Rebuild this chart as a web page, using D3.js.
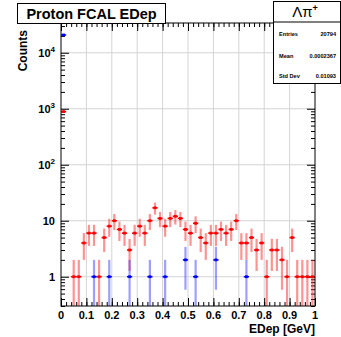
<!DOCTYPE html>
<html>
<head>
<meta charset="utf-8">
<script src="https://cdn.jsdelivr.net/npm/d3@7"></script>
<style>
  html, body { margin: 0; padding: 0; background: #fff; }
  svg { display: block; }
  text { font-family: "Liberation Sans", Arial, Helvetica, sans-serif; }
</style>
</head>
<body>
<svg id="chart" width="341" height="337"></svg>
<script>
// Energy deposit histograms (bin width 0.02 GeV), only non-empty bins listed
const redBins   = [0.01, 0.05, 0.07, 0.09, 0.11, 0.13, 0.15, 0.17, 0.19, 0.21, 0.23, 0.25, 0.27, 0.29,
                   0.31, 0.33, 0.35, 0.37, 0.39, 0.41, 0.43, 0.45, 0.47, 0.49, 0.51, 0.53, 0.55, 0.57,
                   0.59, 0.61, 0.63, 0.65, 0.67, 0.69, 0.71, 0.73, 0.75, 0.77, 0.79, 0.81, 0.83, 0.85,
                   0.87, 0.89, 0.91, 0.93, 0.95, 0.97, 0.99];
const redCounts = [890, 1, 1, 4, 6, 6, 1, 5, 8, 10, 7, 6, 3, 6,
                   8, 6, 10, 17, 11, 8, 11, 12, 11, 7, 6, 9, 5, 4,
                   6, 6, 7, 6, 7, 10, 4, 4, 5, 3, 4, 1, 3, 3,
                   2, 1, 5, 1, 1, 1, 1];
const blueBins   = [0.01, 0.13, 0.19, 0.27, 0.35, 0.41, 0.49, 0.53, 0.61, 0.73];
const blueCounts = [20783, 1, 1, 1, 1, 1, 2, 1, 2, 1];

const xTicks = [0, 0.1, 0.2, 0.3, 0.4, 0.5, 0.6, 0.7, 0.8, 0.9, 1];
const xTickLabels = ["0", "0.1", "0.2", "0.3", "0.4", "0.5", "0.6", "0.7", "0.8", "0.9", "1"];
const yDecades = [1, 10, 100, 1000, 10000];
const yTickLabels = [["1", ""], ["10", ""], ["10", "2"], ["10", "3"], ["10", "4"]];

const titleText = "Proton FCAL EDep";
const xTitle = "EDep [GeV]";
const yTitle = "Counts";
const statsHeader = ["\u039B\u03C0", "+"];
const statsRows = [["Entries", "20794"], ["Mean", "0.0002367"], ["Std Dev", "0.01093"]];

const frame = { left: 61, right: 315, top: 23, bottom: 306 };

const svg = d3.select("#chart");

const x = d3.scaleLinear().domain([0, 1]).range([frame.left, frame.right]);
const y = d3.scaleLog().domain([0.3, 34000]).range([frame.bottom, frame.top]);

// clip region for the plot area
svg.append("defs").append("clipPath").attr("id", "plotClip")
  .append("rect")
  .attr("x", frame.left).attr("y", frame.top)
  .attr("width", frame.right - frame.left).attr("height", frame.bottom - frame.top);

// grid
const grid = svg.append("g").attr("stroke", "#d4d4d4").attr("stroke-width", 1);
xTicks.slice(1, -1).forEach(v => {
  grid.append("line").attr("x1", x(v)).attr("x2", x(v))
    .attr("y1", frame.top).attr("y2", frame.bottom);
});
yDecades.forEach(v => {
  grid.append("line").attr("x1", frame.left).attr("x2", frame.right)
    .attr("y1", y(v)).attr("y2", y(v));
});

// minor tick values
const xMinor = d3.range(0, 51).map(i => i * 0.02);
const yMinor = [];
[0.1, 1, 10, 100, 1000, 10000].forEach(d => {
  for (let k = 2; k <= 9; k++) {
    const v = d * k;
    if (v >= 0.3 && v <= 34000) yMinor.push(v);
  }
});

// axes drawn with D3 axis generators, ticks pointing into the frame
function styleAxis(g) {
  g.select(".domain").remove();
  g.selectAll("line").attr("stroke", "#000").attr("stroke-width", 1);
  g.selectAll("text").remove();
}

// bottom
svg.append("g").attr("transform", `translate(0,${frame.bottom})`)
  .call(d3.axisTop(x).tickValues(xMinor).tickSize(4)).call(styleAxis);
svg.append("g").attr("transform", `translate(0,${frame.bottom})`)
  .call(d3.axisTop(x).tickValues(xTicks).tickSize(8)).call(styleAxis);
// top
svg.append("g").attr("transform", `translate(0,${frame.top})`)
  .call(d3.axisBottom(x).tickValues(xMinor).tickSize(4)).call(styleAxis);
svg.append("g").attr("transform", `translate(0,${frame.top})`)
  .call(d3.axisBottom(x).tickValues(xTicks).tickSize(8)).call(styleAxis);
// left
svg.append("g").attr("transform", `translate(${frame.left},0)`)
  .call(d3.axisRight(y).tickValues(yMinor).tickSize(4)).call(styleAxis);
svg.append("g").attr("transform", `translate(${frame.left},0)`)
  .call(d3.axisRight(y).tickValues(yDecades).tickSize(8)).call(styleAxis);
// right
svg.append("g").attr("transform", `translate(${frame.right},0)`)
  .call(d3.axisLeft(y).tickValues(yMinor).tickSize(4)).call(styleAxis);
svg.append("g").attr("transform", `translate(${frame.right},0)`)
  .call(d3.axisLeft(y).tickValues(yDecades).tickSize(8)).call(styleAxis);

// data: error bars + markers
const plot = svg.append("g").attr("clip-path", "url(#plotClip)");

function drawSeries(bins, counts, color, barColor) {
  const data = bins.map((b, i) => ({ x: b, n: counts[i] }));
  const g = plot.append("g");
  data.forEach(d => {
    const err = Math.sqrt(d.n);
    const lo = d.n - err;
    const yLo = lo > 0 ? y(lo) : frame.bottom + 5;
    const yHi = y(d.n + err);
    g.append("line")
      .attr("x1", x(d.x)).attr("x2", x(d.x))
      .attr("y1", yLo).attr("y2", yHi)
      .attr("stroke", barColor).attr("stroke-width", 2.2);
  });
  data.forEach(d => {
    g.append("line")
      .attr("x1", x(d.x) - 2.6).attr("x2", x(d.x) + 2.6)
      .attr("y1", y(d.n)).attr("y2", y(d.n))
      .attr("stroke", color).attr("stroke-width", 1.6);
    g.append("rect")
      .attr("x", x(d.x) - 1.4).attr("y", y(d.n) - 1.4)
      .attr("width", 2.8).attr("height", 2.8)
      .attr("fill", color);
  });
}
drawSeries(redBins, redCounts, "#ff0000", "rgba(255,40,40,0.5)");
drawSeries(blueBins, blueCounts, "#0000ff", "rgba(40,40,255,0.45)");

// frame
svg.append("rect")
  .attr("x", frame.left).attr("y", frame.top)
  .attr("width", frame.right - frame.left).attr("height", frame.bottom - frame.top)
  .attr("fill", "none").attr("stroke", "#000").attr("stroke-width", 1);

// tick labels
const xl = svg.append("g").attr("font-size", 11).attr("font-weight", "bold").attr("text-anchor", "middle");
xTicks.forEach((v, i) => {
  xl.append("text").attr("x", x(v)).attr("y", 318.5).text(xTickLabels[i]);
});
const yl = svg.append("g").attr("font-size", 11).attr("font-weight", "bold").attr("text-anchor", "end");
yDecades.forEach((v, i) => {
  const [base, exp] = yTickLabels[i];
  const t = yl.append("text").attr("x", 55).attr("y", y(v) + 4);
  t.append("tspan").text(base);
  if (exp) t.append("tspan").attr("font-size", 8).attr("dy", -4.5).text(exp);
});

// axis titles
svg.append("text")
  .attr("x", frame.right).attr("y", 333)
  .attr("text-anchor", "end").attr("font-size", 12).attr("font-weight", "bold")
  .text(xTitle);
svg.append("text")
  .attr("transform", `translate(27,${frame.top + 7}) rotate(-90)`)
  .attr("text-anchor", "end").attr("font-size", 12).attr("font-weight", "bold")
  .text(yTitle);

// title box
svg.append("rect")
  .attr("x", 17.5).attr("y", 3.5).attr("width", 148).attr("height", 20)
  .attr("fill", "#fff").attr("stroke", "#000").attr("stroke-width", 1);
svg.append("text")
  .attr("x", 91.5).attr("y", 19).attr("text-anchor", "middle")
  .attr("font-size", 14.5).attr("font-weight", "bold")
  .text(titleText);

// statistics box
const sb = { left: 273.5, top: 1.5, right: 340.5, bottom: 83.5, header: 22 };
svg.append("rect")
  .attr("x", sb.left).attr("y", sb.top)
  .attr("width", sb.right - sb.left).attr("height", sb.bottom - sb.top)
  .attr("fill", "#fff").attr("stroke", "#000").attr("stroke-width", 1);
svg.append("line")
  .attr("x1", sb.left).attr("x2", sb.right).attr("y1", sb.header).attr("y2", sb.header)
  .attr("stroke", "#000").attr("stroke-width", 1);
const hdr = svg.append("text")
  .attr("x", 305).attr("y", 17).attr("text-anchor", "middle")
  .attr("font-family", "'Liberation Serif', 'DejaVu Serif', serif").attr("font-size", 15);
hdr.append("tspan").text(statsHeader[0]);
hdr.append("tspan").attr("font-size", 9).attr("dy", -6).attr("font-weight", "bold").text(statsHeader[1]);

const rowY = [36, 58, 78];
statsRows.forEach(([k, v], i) => {
  svg.append("text").attr("x", 279).attr("y", rowY[i])
    .attr("font-size", 5.6).attr("font-weight", "bold").text(k);
  svg.append("text").attr("x", 336).attr("y", rowY[i]).attr("text-anchor", "end")
    .attr("font-size", 5.6).attr("font-weight", "bold").text(v);
});
</script>
</body>
</html>
